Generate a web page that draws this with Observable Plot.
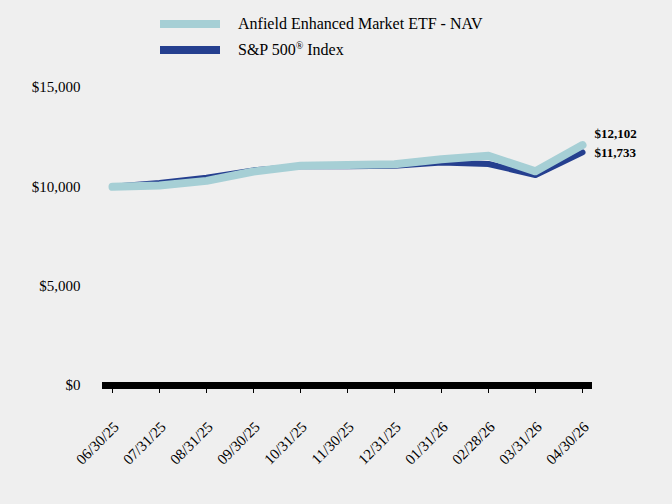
<!DOCTYPE html>
<html>
<head>
<meta charset="utf-8">
<script src="https://cdn.jsdelivr.net/npm/d3@7"></script>
<script src="https://cdn.jsdelivr.net/npm/@observablehq/plot@0.6"></script>
<style>
  html, body { margin: 0; padding: 0; background: #efefef; }
  #wrap { position: relative; width: 672px; height: 504px; font-family: "Liberation Serif", "Times New Roman", serif; color: #000; }
  .leg { position: absolute; left: 160px; height: 20px; display: flex; align-items: center; font-size: 16px; white-space: nowrap; }
  .sw { width: 60px; height: 8px; margin-right: 18px; }
  sup { font-size: 10px; line-height: 0; vertical-align: 6px; }
</style>
</head>
<body>
<div id="wrap"></div>
<script>
const dates = ["06/30/25","07/31/25","08/31/25","09/30/25","10/31/25","11/30/25","12/31/25","01/31/26","02/28/26","03/31/26","04/30/26"];
const navValues = [10000, 10065, 10300, 10770, 11060, 11100, 11140, 11390, 11560, 10780, 12102];
const spValues  = [10000, 10190, 10460, 10830, 11030, 11040, 11060, 11230, 11150, 10595, 11733];
const seriesNames = ["Anfield Enhanced Market ETF - NAV", "S&P 500® Index"];
const seriesColors = ["#a6cfd5", "#253f8f"];
const yTicks = [0, 5000, 10000, 15000];
const endLabels = ["$12,102", "$11,733"];

const navRows = dates.map((d, i) => ({date: d, value: navValues[i]}));
const spRows = dates.map((d, i) => ({date: d, value: spValues[i]}));
const last = dates.length - 1;
const endRows = [
  {date: dates[last], value: navValues[last], label: endLabels[0]},
  {date: dates[last], value: spValues[last], label: endLabels[1]}
];

const chart = Plot.plot({
  width: 672,
  height: 504,
  marginTop: 87,
  marginBottom: 119,
  marginLeft: 102,
  marginRight: 80,
  style: {background: "#efefef", fontFamily: "'Liberation Serif', 'Times New Roman', serif", color: "#000"},
  x: {type: "point", domain: dates, padding: 0, insetLeft: 8, insetRight: 9},
  y: {domain: [0, 15000]},
  marks: [
    Plot.axisY({ticks: yTicks, tickFormat: d => "$" + d3.format(",")(d), tickSize: 0, tickPadding: 22, fontSize: 15, label: null}),
    Plot.axisX({tickSize: 8, tickFormat: () => "", label: null}),
    Plot.text(dates, {x: d => d, text: d => d, frameAnchor: "bottom", rotate: -45, textAnchor: "end", lineAnchor: "middle", dx: 4, dy: 39, fontSize: 15}),
    Plot.ruleY([0], {stroke: "#000", strokeWidth: 7}),
    Plot.line(spRows, {x: "date", y: "value", stroke: seriesColors[1], strokeWidth: 6}),
    Plot.line(navRows, {x: "date", y: "value", stroke: seriesColors[0], strokeWidth: 8}),
    Plot.text(endRows.slice(0,1), {x: "date", y: "value", text: "label", dx: 12, dy: -11, textAnchor: "start", fontWeight: "bold", fontSize: 13}),
    Plot.text(endRows.slice(1), {x: "date", y: "value", text: "label", dx: 12, dy: 0, textAnchor: "start", fontWeight: "bold", fontSize: 13})
  ]
});

const wrap = document.getElementById("wrap");
wrap.appendChild(chart);

const leg1 = document.createElement("div");
leg1.className = "leg";
leg1.style.top = "14px";
leg1.innerHTML = `<div class="sw" style="background:${seriesColors[0]}"></div><span>${seriesNames[0]}</span>`;
wrap.appendChild(leg1);

const leg2 = document.createElement("div");
leg2.className = "leg";
leg2.style.top = "40px";
leg2.innerHTML = `<div class="sw" style="background:${seriesColors[1]}"></div><span>S&amp;P 500<sup>®</sup> Index</span>`;
wrap.appendChild(leg2);
</script>
</body>
</html>
